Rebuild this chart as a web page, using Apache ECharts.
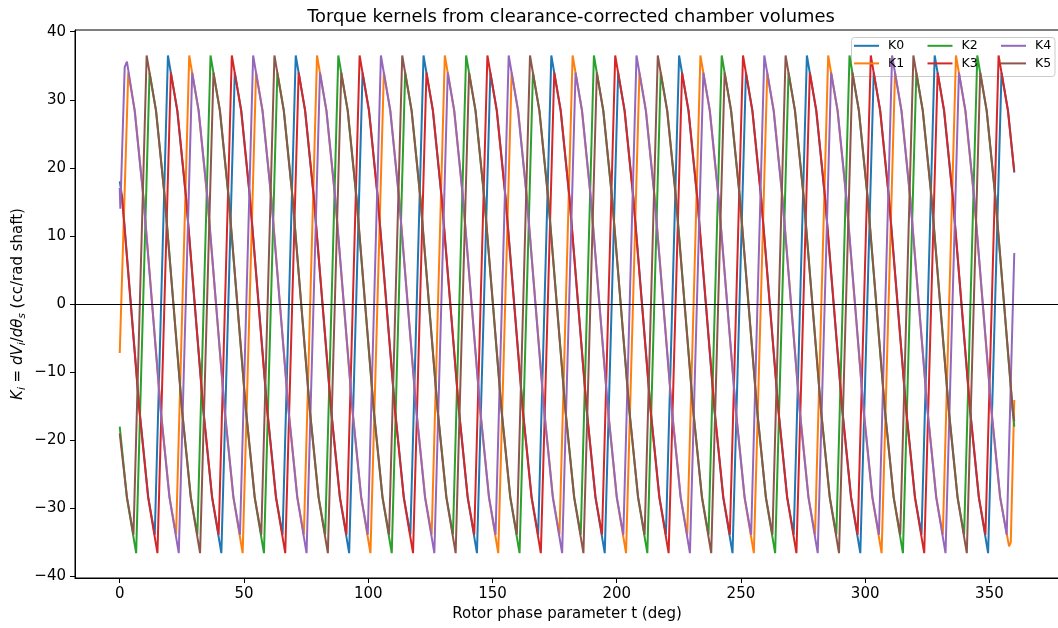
<!DOCTYPE html>
<html><head><meta charset="utf-8">
<script src="https://cdn.jsdelivr.net/npm/echarts@6/dist/echarts.min.js"></script>
<style>html,body{margin:0;padding:0;background:#fff}#c{width:1058px;height:628px}</style>
</head><body><div id="c"></div>
<script>
const seriesNames = ['K0','K1','K2','K3','K4','K5'];
const colors = ['#1f77b4','#ff7f0e','#2ca02c','#d62728','#9467bd','#8c564b'];
const xTicks = [0,50,100,150,200,250,300,350];
const yTicks = [-40,-30,-20,-10,0,10,20,30,40];

const k0 = [[0,18.0],[0.99,15.7],[4.49,0],[7.99,-15.7],[11.49,-28.4],
[14.10,-33.9],[19.40,36.5],[23.15,28.4],[26.65,15.7],[30.15,0],[33.65,-15.7],[37.15,-28.4],[40.90,-36.6],[46.30,34.0],[48.92,28.4],[52.42,15.7],[55.92,0],[59.42,-15.7],[62.92,-28.4],
[65.53,-33.9],[70.83,36.5],[74.58,28.4],[78.08,15.7],[81.58,0],[85.08,-15.7],[88.58,-28.4],[92.33,-36.6],[97.73,34.0],[100.35,28.4],[103.85,15.7],[107.35,0],[110.85,-15.7],[114.35,-28.4],
[116.96,-33.9],[122.26,36.5],[126.01,28.4],[129.51,15.7],[133.01,0],[136.51,-15.7],[140.01,-28.4],[143.76,-36.6],[149.16,34.0],[151.78,28.4],[155.28,15.7],[158.78,0],[162.28,-15.7],[165.78,-28.4],
[168.39,-33.9],[173.69,36.5],[177.44,28.4],[180.94,15.7],[184.44,0],[187.94,-15.7],[191.44,-28.4],[195.19,-36.6],[200.59,34.0],[203.21,28.4],[206.71,15.7],[210.21,0],[213.71,-15.7],[217.21,-28.4],
[219.81,-33.9],[225.11,36.5],[228.86,28.4],[232.36,15.7],[235.86,0],[239.36,-15.7],[242.86,-28.4],[246.61,-36.6],[252.01,34.0],[254.63,28.4],[258.13,15.7],[261.63,0],[265.13,-15.7],[268.63,-28.4],
[271.24,-33.9],[276.54,36.5],[280.29,28.4],[283.79,15.7],[287.29,0],[290.79,-15.7],[294.29,-28.4],[298.04,-36.6],[303.44,34.0],[306.06,28.4],[309.56,15.7],[313.06,0],[316.56,-15.7],[320.06,-28.4],
[322.67,-33.9],[327.97,36.5],[331.72,28.4],[335.22,15.7],[338.72,0],[342.22,-15.7],[345.72,-28.4],[349.47,-36.6],[354.87,34.0],[357.49,28.4],[360,19.3]];

const k1 = [[0,-7.2],[3.44,34.0],[6.06,28.4],[9.56,15.7],[13.06,0],[16.56,-15.7],[20.06,-28.4],
[22.67,-33.9],[27.97,36.5],[31.72,28.4],[35.22,15.7],[38.72,0],[42.22,-15.7],[45.72,-28.4],[49.47,-36.6],[54.87,34.0],[57.49,28.4],[60.99,15.7],[64.49,0],[67.99,-15.7],[71.49,-28.4],
[74.10,-33.9],[79.40,36.5],[83.15,28.4],[86.65,15.7],[90.15,0],[93.65,-15.7],[97.15,-28.4],[100.90,-36.6],[106.30,34.0],[108.92,28.4],[112.42,15.7],[115.92,0],[119.42,-15.7],[122.92,-28.4],
[125.53,-33.9],[130.83,36.5],[134.58,28.4],[138.08,15.7],[141.58,0],[145.08,-15.7],[148.58,-28.4],[152.33,-36.6],[157.73,34.0],[160.35,28.4],[163.85,15.7],[167.35,0],[170.85,-15.7],[174.35,-28.4],
[176.96,-33.9],[182.26,36.5],[186.01,28.4],[189.51,15.7],[193.01,0],[196.51,-15.7],[200.01,-28.4],[203.76,-36.6],[209.16,34.0],[211.78,28.4],[215.28,15.7],[218.78,0],[222.28,-15.7],[225.78,-28.4],
[228.39,-33.9],[233.69,36.5],[237.44,28.4],[240.94,15.7],[244.44,0],[247.94,-15.7],[251.44,-28.4],[255.19,-36.6],[260.59,34.0],[263.21,28.4],[266.71,15.7],[270.21,0],[273.71,-15.7],[277.21,-28.4],
[279.81,-33.9],[285.11,36.5],[288.86,28.4],[292.36,15.7],[295.86,0],[299.36,-15.7],[302.86,-28.4],[306.61,-36.6],[312.01,34.0],[314.63,28.4],[318.13,15.7],[321.63,0],[325.13,-15.7],[328.63,-28.4],
[331.24,-33.9],[336.54,36.5],[340.29,28.4],[343.79,15.7],[347.29,0],[350.79,-15.7],[354.29,-28.4],[357.9,-35.6],[358.6,-35.0],[359.3,-35.2],[360,-14.1]];

const k2 = [[0,-18.0],[2.86,-28.4],[6.61,-36.6],[12.01,34.0],[14.63,28.4],[18.13,15.7],[21.63,0],[25.13,-15.7],[28.63,-28.4],
[31.24,-33.9],[36.54,36.5],[40.29,28.4],[43.79,15.7],[47.29,0],[50.79,-15.7],[54.29,-28.4],[58.04,-36.6],[63.44,34.0],[66.06,28.4],[69.56,15.7],[73.06,0],[76.56,-15.7],[80.06,-28.4],
[82.67,-33.9],[87.97,36.5],[91.72,28.4],[95.22,15.7],[98.72,0],[102.22,-15.7],[105.72,-28.4],[109.47,-36.6],[114.87,34.0],[117.49,28.4],[120.99,15.7],[124.49,0],[127.99,-15.7],[131.49,-28.4],
[134.10,-33.9],[139.40,36.5],[143.15,28.4],[146.65,15.7],[150.15,0],[153.65,-15.7],[157.15,-28.4],[160.90,-36.6],[166.30,34.0],[168.92,28.4],[172.42,15.7],[175.92,0],[179.42,-15.7],[182.92,-28.4],
[185.53,-33.9],[190.83,36.5],[194.58,28.4],[198.08,15.7],[201.58,0],[205.08,-15.7],[208.58,-28.4],[212.33,-36.6],[217.73,34.0],[220.35,28.4],[223.85,15.7],[227.35,0],[230.85,-15.7],[234.35,-28.4],
[236.96,-33.9],[242.26,36.5],[246.01,28.4],[249.51,15.7],[253.01,0],[256.51,-15.7],[260.01,-28.4],[263.76,-36.6],[269.16,34.0],[271.78,28.4],[275.28,15.7],[278.78,0],[282.28,-15.7],[285.78,-28.4],
[288.39,-33.9],[293.69,36.5],[297.44,28.4],[300.94,15.7],[304.44,0],[307.94,-15.7],[311.44,-28.4],[315.19,-36.6],[320.59,34.0],[323.21,28.4],[326.71,15.7],[330.21,0],[333.71,-15.7],[337.21,-28.4],
[339.81,-33.9],[345.11,36.5],[348.86,28.4],[352.36,15.7],[355.86,0],[359.36,-15.7],[360,-18.0]];

const k3 = [[0,17.0],[0.93,15.7],[4.43,0],[7.93,-15.7],[11.43,-28.4],[15.18,-36.6],[20.58,34.0],[23.20,28.4],[26.70,15.7],[30.20,0],[33.70,-15.7],[37.20,-28.4],
[39.81,-33.9],[45.11,36.5],[48.86,28.4],[52.36,15.7],[55.86,0],[59.36,-15.7],[62.86,-28.4],[66.61,-36.6],[72.01,34.0],[74.63,28.4],[78.13,15.7],[81.63,0],[85.13,-15.7],[88.63,-28.4],
[91.24,-33.9],[96.54,36.5],[100.29,28.4],[103.79,15.7],[107.29,0],[110.79,-15.7],[114.29,-28.4],[118.04,-36.6],[123.44,34.0],[126.06,28.4],[129.56,15.7],[133.06,0],[136.56,-15.7],[140.06,-28.4],
[142.67,-33.9],[147.97,36.5],[151.72,28.4],[155.22,15.7],[158.72,0],[162.22,-15.7],[165.72,-28.4],[169.47,-36.6],[174.87,34.0],[177.49,28.4],[180.99,15.7],[184.49,0],[187.99,-15.7],[191.49,-28.4],
[194.10,-33.9],[199.40,36.5],[203.15,28.4],[206.65,15.7],[210.15,0],[213.65,-15.7],[217.15,-28.4],[220.90,-36.6],[226.30,34.0],[228.92,28.4],[232.42,15.7],[235.92,0],[239.42,-15.7],[242.92,-28.4],
[245.53,-33.9],[250.83,36.5],[254.58,28.4],[258.08,15.7],[261.58,0],[265.08,-15.7],[268.58,-28.4],[272.33,-36.6],[277.73,34.0],[280.35,28.4],[283.85,15.7],[287.35,0],[290.85,-15.7],[294.35,-28.4],
[296.96,-33.9],[302.26,36.5],[306.01,28.4],[309.51,15.7],[313.01,0],[316.51,-15.7],[320.01,-28.4],[323.76,-36.6],[329.16,34.0],[331.78,28.4],[335.28,15.7],[338.78,0],[342.28,-15.7],[345.78,-28.4],
[348.39,-33.9],[353.69,36.5],[357.44,28.4],[360,19.5]];

const k4 = [[0,17.0],[0.25,14.0],[2.0,34.8],[2.3,34.6],[2.9,35.6],[6.01,28.4],[9.51,15.7],[13.01,0],[16.51,-15.7],[20.01,-28.4],[23.76,-36.6],[29.16,34.0],[31.78,28.4],[35.28,15.7],[38.78,0],[42.28,-15.7],[45.78,-28.4],
[48.39,-33.9],[53.69,36.5],[57.44,28.4],[60.94,15.7],[64.44,0],[67.94,-15.7],[71.44,-28.4],[75.19,-36.6],[80.59,34.0],[83.21,28.4],[86.71,15.7],[90.21,0],[93.71,-15.7],[97.21,-28.4],
[99.81,-33.9],[105.11,36.5],[108.86,28.4],[112.36,15.7],[115.86,0],[119.36,-15.7],[122.86,-28.4],[126.61,-36.6],[132.01,34.0],[134.63,28.4],[138.13,15.7],[141.63,0],[145.13,-15.7],[148.63,-28.4],
[151.24,-33.9],[156.54,36.5],[160.29,28.4],[163.79,15.7],[167.29,0],[170.79,-15.7],[174.29,-28.4],[178.04,-36.6],[183.44,34.0],[186.06,28.4],[189.56,15.7],[193.06,0],[196.56,-15.7],[200.06,-28.4],
[202.67,-33.9],[207.97,36.5],[211.72,28.4],[215.22,15.7],[218.72,0],[222.22,-15.7],[225.72,-28.4],[229.47,-36.6],[234.87,34.0],[237.49,28.4],[240.99,15.7],[244.49,0],[247.99,-15.7],[251.49,-28.4],
[254.10,-33.9],[259.40,36.5],[263.15,28.4],[266.65,15.7],[270.15,0],[273.65,-15.7],[277.15,-28.4],[280.90,-36.6],[286.30,34.0],[288.92,28.4],[292.42,15.7],[295.92,0],[299.42,-15.7],[302.92,-28.4],
[305.53,-33.9],[310.83,36.5],[314.58,28.4],[318.08,15.7],[321.58,0],[325.08,-15.7],[328.58,-28.4],[332.33,-36.6],[337.73,34.0],[340.35,28.4],[343.85,15.7],[347.35,0],[350.85,-15.7],[354.35,-28.4],
[356.96,-33.9],[360,7.5]];

const k5 = [[0,-19.0],[2.92,-28.4],[5.53,-33.9],[10.83,36.5],[14.58,28.4],[18.08,15.7],[21.58,0],[25.08,-15.7],[28.58,-28.4],[32.33,-36.6],[37.73,34.0],[40.35,28.4],[43.85,15.7],[47.35,0],[50.85,-15.7],[54.35,-28.4],
[56.96,-33.9],[62.26,36.5],[66.01,28.4],[69.51,15.7],[73.01,0],[76.51,-15.7],[80.01,-28.4],[83.76,-36.6],[89.16,34.0],[91.78,28.4],[95.28,15.7],[98.78,0],[102.28,-15.7],[105.78,-28.4],
[108.39,-33.9],[113.69,36.5],[117.44,28.4],[120.94,15.7],[124.44,0],[127.94,-15.7],[131.44,-28.4],[135.19,-36.6],[140.59,34.0],[143.21,28.4],[146.71,15.7],[150.21,0],[153.71,-15.7],[157.21,-28.4],
[159.81,-33.9],[165.11,36.5],[168.86,28.4],[172.36,15.7],[175.86,0],[179.36,-15.7],[182.86,-28.4],[186.61,-36.6],[192.01,34.0],[194.63,28.4],[198.13,15.7],[201.63,0],[205.13,-15.7],[208.63,-28.4],
[211.24,-33.9],[216.54,36.5],[220.29,28.4],[223.79,15.7],[227.29,0],[230.79,-15.7],[234.29,-28.4],[238.04,-36.6],[243.44,34.0],[246.06,28.4],[249.56,15.7],[253.06,0],[256.56,-15.7],[260.06,-28.4],
[262.67,-33.9],[267.97,36.5],[271.72,28.4],[275.22,15.7],[278.72,0],[282.22,-15.7],[285.72,-28.4],[289.47,-36.6],[294.87,34.0],[297.49,28.4],[300.99,15.7],[304.49,0],[307.99,-15.7],[311.49,-28.4],
[314.10,-33.9],[319.40,36.5],[323.15,28.4],[326.65,15.7],[330.15,0],[333.65,-15.7],[337.15,-28.4],[340.90,-36.6],[346.30,34.0],[348.92,28.4],[352.42,15.7],[355.92,0],[359.42,-15.7],[360,-17.2]];

const allData = [k0,k1,k2,k3,k4,k5];
const FONT = 'DejaVu Sans';

const chart = echarts.init(document.getElementById('c'), null, {renderer:'canvas'});
const series = seriesNames.map((n,i)=>({
  name:n, type:'line', data:allData[i], showSymbol:false, symbol:'none',
  lineStyle:{width:2, color:colors[i]}, itemStyle:{color:colors[i]},
  animation:false, clip:true
}));
series[5].markLine = {
  silent:true, symbol:['none','none'], label:{show:false}, animation:false,
  lineStyle:{color:'#000', width:1.2, type:'solid'}, emphasis:{disabled:true},
  data:[{yAxis:0}]
};

chart.setOption({
  backgroundColor:'#fff',
  animation:false,
  title:{text:'Torque kernels from clearance-corrected chamber volumes', left:566, textAlign:'center', top:3,
    textStyle:{fontFamily:FONT, fontSize:17.9, fontWeight:'normal', color:'#000'}},
  grid:{left:75, top:30, width:984, height:548, show:true, borderColor:'#000', borderWidth:1,
    backgroundColor:'transparent', containLabel:false, outerBoundsMode:'none'},
  legend:{data:['K0','K2','K4','K1','K3','K5'], left:854, top:39, width:225, padding:0, itemGap:4,
    icon:'rect', itemWidth:25, itemHeight:2, orient:'horizontal',
    textStyle:{fontFamily:FONT, fontSize:12.5, color:'#000', width:35.5, lineHeight:13.6, padding:[0,0,0,4]}},
  graphic:[{type:'rect', z:3, zlevel:0, shape:{x:851.5, y:37.5, width:203.5, height:39, r:3},
    style:{fill:'rgba(255,255,255,0.8)', stroke:'#cccccc', lineWidth:1}}],
  xAxis:{type:'value', min:-18, max:378,
    name:'Rotor phase parameter t (deg)', nameLocation:'middle', nameGap:29, nameMoveOverlap:false,
    nameTextStyle:{fontFamily:FONT, fontSize:15, color:'#000'},
    axisLine:{show:true, onZero:false, lineStyle:{color:'#000', width:1}},
    axisTick:{show:true, length:5, lineStyle:{color:'#000'}, customValues:xTicks},
    axisLabel:{fontFamily:FONT, fontSize:15, color:'#000', margin:9, customValues:xTicks},
    splitLine:{show:false}},
  yAxis:{type:'value', min:-40.25, max:40.25,
    name:'{it|K}{sub|i}{n| = }{it|dV}{sub|i}{n|/}{it|dθ}{sub|s}{n| (cc/rad shaft)}',
    nameLocation:'middle', nameGap:47, nameRotate:90, nameMoveOverlap:false,
    nameTextStyle:{fontFamily:FONT, fontSize:15, color:'#000', lineHeight:20,
      rich:{it:{fontFamily:FONT, fontStyle:'italic', fontSize:15, lineHeight:20, color:'#000'},
            n:{fontFamily:FONT, fontSize:15, lineHeight:20, color:'#000'},
            sub:{fontFamily:FONT, fontStyle:'italic', fontSize:10.5, lineHeight:10, verticalAlign:'bottom', color:'#000'}}},
    axisLine:{show:true, onZero:false, lineStyle:{color:'#000', width:1}},
    axisTick:{show:true, length:5, lineStyle:{color:'#000'}, customValues:yTicks},
    axisLabel:{fontFamily:FONT, fontSize:15, color:'#000', margin:9, customValues:yTicks,
      formatter:v=>String(v).replace('-','\u2212')},
    splitLine:{show:false}},
  series:series
});
</script></body></html>
